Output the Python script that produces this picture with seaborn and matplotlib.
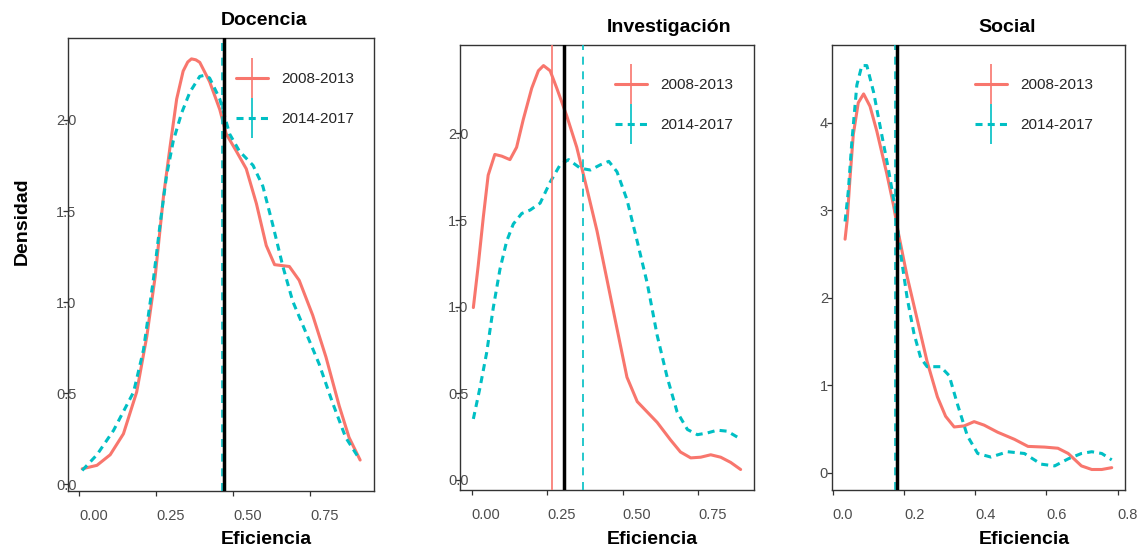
import matplotlib
matplotlib.use("Agg")
import matplotlib.pyplot as plt
from matplotlib.lines import Line2D
import seaborn as sns

sns.set_theme(style="white")
plt.rcParams["font.family"] = ["Liberation Sans", "DejaVu Sans"]

# Periods and their colours
periods = ["2008-2013", "2014-2017"]
palette = ["#F8766D", "#00BFC4"]

# ---- Docencia: estimated density curves ----
doc_x_0813 = [0.009, 0.057, 0.100, 0.143, 0.186, 0.219, 0.246, 0.273, 0.294, 0.316,
              0.337, 0.352, 0.364, 0.378, 0.391, 0.423, 0.456, 0.477, 0.510, 0.542,
              0.575, 0.607, 0.634, 0.682, 0.714, 0.758, 0.801, 0.844, 0.876, 0.912]
doc_y_0813 = [0.086, 0.105, 0.163, 0.278, 0.507, 0.813, 1.139, 1.579, 1.847, 2.115,
              2.268, 2.318, 2.335, 2.330, 2.316, 2.210, 2.057, 1.923, 1.828, 1.732,
              1.541, 1.311, 1.206, 1.196, 1.120, 0.928, 0.699, 0.431, 0.258, 0.134]
doc_x_1417 = [0.009, 0.057, 0.111, 0.176, 0.208, 0.240, 0.262, 0.283, 0.305, 0.332,
              0.359, 0.391, 0.407, 0.423, 0.456, 0.488, 0.520, 0.564, 0.596, 0.628,
              0.661, 0.693, 0.736, 0.779, 0.822, 0.865, 0.908]
doc_y_1417 = [0.077, 0.163, 0.297, 0.507, 0.737, 1.120, 1.426, 1.694, 1.885, 2.038,
              2.153, 2.239, 2.245, 2.230, 2.115, 1.923, 1.828, 1.751, 1.636, 1.426,
              1.196, 1.005, 0.833, 0.660, 0.450, 0.258, 0.144]

# ---- Investigación ----
inv_x_0813 = [0.006, 0.022, 0.039, 0.055, 0.077, 0.100, 0.127, 0.149, 0.171, 0.199,
              0.221, 0.238, 0.260, 0.282, 0.315, 0.348, 0.382, 0.415, 0.448, 0.481,
              0.514, 0.548, 0.581, 0.614, 0.658, 0.691, 0.725, 0.758, 0.791, 0.824,
              0.857, 0.890]
inv_y_0813 = [0.995, 1.236, 1.518, 1.759, 1.879, 1.869, 1.849, 1.920, 2.080, 2.261,
              2.362, 2.392, 2.362, 2.261, 2.101, 1.920, 1.678, 1.437, 1.156, 0.874,
              0.593, 0.452, 0.392, 0.332, 0.231, 0.161, 0.127, 0.131, 0.145, 0.131,
              0.101, 0.060]
inv_x_1417 = [0.006, 0.028, 0.050, 0.072, 0.094, 0.116, 0.138, 0.166, 0.194, 0.227,
              0.260, 0.293, 0.321, 0.360, 0.393, 0.426, 0.454, 0.481, 0.514, 0.548,
              0.581, 0.614, 0.647, 0.680, 0.714, 0.747, 0.780, 0.813, 0.846, 0.885]
inv_y_1417 = [0.352, 0.533, 0.734, 0.995, 1.216, 1.377, 1.477, 1.538, 1.558, 1.598,
              1.719, 1.819, 1.849, 1.799, 1.789, 1.819, 1.839, 1.779, 1.618, 1.377,
              1.136, 0.834, 0.593, 0.392, 0.291, 0.261, 0.271, 0.287, 0.281, 0.241]

# ---- Social ----
soc_x_0813 = [0.035, 0.041, 0.049, 0.058, 0.072, 0.087, 0.105, 0.124, 0.152, 0.171,
              0.185, 0.209, 0.237, 0.265, 0.294, 0.317, 0.341, 0.369, 0.397, 0.425,
              0.463, 0.510, 0.548, 0.595, 0.632, 0.661, 0.698, 0.727, 0.755, 0.783]
soc_y_0813 = [2.672, 2.895, 3.381, 3.866, 4.231, 4.332, 4.190, 3.907, 3.421, 3.057,
              2.733, 2.247, 1.761, 1.275, 0.870, 0.648, 0.526, 0.538, 0.587, 0.547,
              0.466, 0.385, 0.304, 0.296, 0.283, 0.223, 0.081, 0.040, 0.040, 0.061]
soc_x_1417 = [0.035, 0.044, 0.054, 0.068, 0.082, 0.096, 0.115, 0.134, 0.157, 0.176,
              0.190, 0.209, 0.228, 0.247, 0.265, 0.303, 0.327, 0.350, 0.378, 0.407,
              0.444, 0.491, 0.538, 0.585, 0.623, 0.661, 0.698, 0.727, 0.755, 0.783]
soc_y_1417 = [2.874, 3.219, 3.785, 4.433, 4.656, 4.656, 4.352, 3.947, 3.462, 3.016,
              2.530, 2.004, 1.599, 1.316, 1.215, 1.215, 1.113, 0.789, 0.425, 0.223,
              0.182, 0.243, 0.223, 0.101, 0.081, 0.162, 0.223, 0.243, 0.223, 0.150]

# Period means and overall mean of each dimension
doc_means = [0.4735, 0.4640]
doc_overall = 0.4700
inv_means = [0.2675, 0.3680]
inv_overall = 0.3060
soc_means = [0.1840, 0.1760]
soc_overall = 0.1810

# Axis ticks
ticks_x_ab = [0.00, 0.25, 0.50, 0.75]
labels_x_ab = ["0.00", "0.25", "0.50", "0.75"]
ticks_y_ab = [0.0, 0.5, 1.0, 1.5, 2.0]
labels_y_ab = ["0.0", "0.5", "1.0", "1.5", "2.0"]
ticks_x_c = [0.0, 0.2, 0.4, 0.6, 0.8]
labels_x_c = ["0.0", "0.2", "0.4", "0.6", "0.8"]
ticks_y_c = [0, 1, 2, 3, 4]
labels_y_c = ["0", "1", "2", "3", "4"]

titles = ["Docencia", "Investigación", "Social"]

panels = [
    dict(title=titles[0], curves=[(doc_x_0813, doc_y_0813), (doc_x_1417, doc_y_1417)],
         means=doc_means, overall=doc_overall,
         xt=(ticks_x_ab, labels_x_ab), yt=(ticks_y_ab, labels_y_ab),
         rect=[0.0599, 0.1040, 0.2682, 0.8261], leg=(0.549, 0.925), xlab_y=-0.117),
    dict(title=titles[1], curves=[(inv_x_0813, inv_y_0813), (inv_x_1417, inv_y_1417)],
         means=inv_means, overall=inv_overall,
         xt=(ticks_x_ab, labels_x_ab), yt=(ticks_y_ab, labels_y_ab),
         rect=[0.4035, 0.1064, 0.2579, 0.8108], leg=(0.527, 0.926), xlab_y=-0.1222),
    dict(title=titles[2], curves=[(soc_x_0813, soc_y_0813), (soc_x_1417, soc_y_1417)],
         means=soc_means, overall=soc_overall,
         xt=(ticks_x_c, labels_x_c), yt=(ticks_y_c, labels_y_c),
         rect=[0.7296, 0.1064, 0.2573, 0.8108], leg=(0.4886, 0.926), xlab_y=-0.1222),
]

curve_styles = ["-", (0, (2.3, 1.7))]
mean_styles = ["-", (0, (4.8, 4.0))]
ink = "#333333"
tick_text = "#4D4D4D"

fig = plt.figure(figsize=(11.4, 5.48), dpi=100)
fig.patch.set_facecolor("white")

for i, p in enumerate(panels):
    ax = fig.add_axes(p["rect"])
    ax.set_facecolor("white")

    # density curves of each period
    for (xs, ys), c, ls in zip(p["curves"], palette, curve_styles):
        sns.lineplot(x=xs, y=ys, ax=ax, color=c, linewidth=2.2, linestyle=ls)

    # mean of each period and overall mean
    for m, c, ls in zip(p["means"], palette, mean_styles):
        ax.axvline(m, color=c, linewidth=1.2, linestyle=ls, zorder=3)
    ax.axvline(p["overall"], color="black", linewidth=2.5, zorder=4)

    ax.set_xticks(p["xt"][0], p["xt"][1])
    ax.set_yticks(p["yt"][0], p["yt"][1])
    for lab in ax.get_xticklabels():
        lab.set_horizontalalignment("left")
    for lab in ax.get_yticklabels():
        lab.set_horizontalalignment("left")

    ax.tick_params(axis="both", length=3.6, width=0.9, color=ink,
                   labelcolor=tick_text, labelsize=10.5, bottom=True, left=True)
    ax.tick_params(axis="x", pad=9.4)
    ax.tick_params(axis="y", pad=5.0)
    for sp in ax.spines.values():
        sp.set_visible(True)
        sp.set_color(ink)
        sp.set_linewidth(1.0)
    ax.grid(False)

    ax.set_title(p["title"], fontsize=14, fontweight="bold", color="black",
                 ha="left", pad=9.6)
    ax.set_xlabel("Eficiencia", fontsize=14, fontweight="bold", color="black",
                  ha="left", va="baseline")
    ax.xaxis.set_label_coords(0.5, p["xlab_y"])
    if i == 0:
        ax.set_ylabel("Densidad", fontsize=14, fontweight="bold", color="black",
                      ha="left", va="baseline", rotation=90, rotation_mode="anchor")
        ax.yaxis.set_label_coords(-0.136, 0.5)
    else:
        ax.set_ylabel("")

    handles = []
    for c, ls in zip(palette, curve_styles):
        h_line = Line2D([], [], color=c, linewidth=2.2, linestyle=ls)
        v_line = Line2D([], [], color=c, marker="|", markersize=28.8,
                        markeredgewidth=1.2, linestyle="None")
        handles.append((h_line, v_line))
    ax.legend(handles, periods, loc="upper left", bbox_to_anchor=p["leg"],
              frameon=False, fontsize=11, handlelength=2.09, handletextpad=0.85,
              labelspacing=1.7, borderpad=0, borderaxespad=0)

fig.savefig("out.png", dpi=100)
